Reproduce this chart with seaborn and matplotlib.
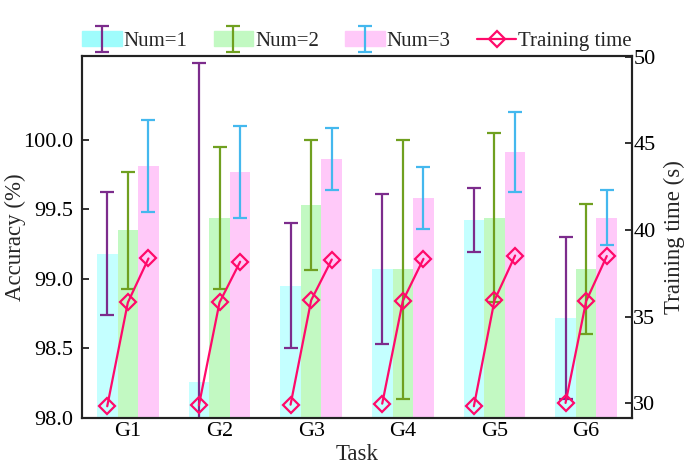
import numpy as np
import pandas as pd
import matplotlib
matplotlib.use("Agg")
import matplotlib.pyplot as plt
import seaborn as sns
from matplotlib.legend_handler import HandlerTuple, HandlerErrorbar
from matplotlib.container import ErrorbarContainer

tasks = ["G1", "G2", "G3", "G4", "G5", "G6"]
nums = ["Num=1", "Num=2", "Num=3"]

acc_num1 = [99.18, 98.26, 98.95, 99.07, 99.42, 98.72]
acc_num2 = [99.35, 99.44, 99.53, 99.07, 99.44, 99.07]
acc_num3 = [99.81, 99.77, 99.86, 99.58, 99.91, 99.44]

err_num1 = [0.44, 2.29, 0.45, 0.54, 0.23, 0.58]
err_num2 = [0.42, 0.51, 0.47, 0.93, 0.61, 0.47]
err_num3 = [0.33, 0.33, 0.22, 0.22, 0.29, 0.20]

# training time per group, one value per Num setting
time_num1 = [29.83, 29.88, 29.92, 29.98, 29.83, 30.02]
time_num2 = [35.82, 35.82, 35.95, 35.91, 35.95, 35.90]
time_num3 = [38.36, 38.17, 38.30, 38.34, 38.53, 38.50]

bar_colors = ["#c4ffff", "#c2f9c2", "#ffc9f9"]
legend_colors = ["#9ffcfc", "#c2f9c2", "#ffc9f9"]
err_colors = ["#7c2c8c", "#70a020", "#44b8ee"]
line_color = "#ff0a6a"

df = pd.DataFrame({
    "Task": tasks * 3,
    "Num": [n for n in nums for _ in tasks],
    "Accuracy": acc_num1 + acc_num2 + acc_num3,
})
errs = [err_num1, err_num2, err_num3]
accs = [acc_num1, acc_num2, acc_num3]
times = [time_num1, time_num2, time_num3]

sns.set_style("ticks")
plt.rcParams["font.family"] = ["Liberation Serif", "DejaVu Serif"]
plt.rcParams["font.size"] = 15

fig = plt.figure(figsize=(6.91, 4.69), dpi=100)
ax = fig.add_axes([0.1187, 0.1087, 0.7959, 0.7719])

sns.barplot(data=df, x="Task", y="Accuracy", hue="Num", palette=bar_colors,
            width=0.675, gap=0, saturation=1, linewidth=0, ax=ax, legend=False)

bar_conts = list(ax.containers)
err_handles = []
centers = []
for i, cont in enumerate(bar_conts):
    xs = [b.get_x() + b.get_width() / 2 for b in cont]
    centers.append(xs)
    eb = ax.errorbar(xs, accs[i], yerr=errs[i], fmt="none", ecolor=err_colors[i],
                     elinewidth=1.6, capsize=5, capthick=1.6, zorder=3)
    err_handles.append(eb)

ax.set_ylim(98.0, 100.6)
ax.set_xlim(-0.5, 5.5)
ax.set_yticks([98.0, 98.5, 99.0, 99.5, 100.0])
ax.set_yticklabels(["98.0", "98.5", "99.0", "99.5", "100.0"])
ax.set_xlabel("Task", fontsize=16.5, labelpad=2)
ax.set_ylabel("Accuracy (%)", fontsize=16.5)
ax.yaxis.set_label_coords(-0.102, 0.5)

ax2 = ax.twinx()
line = None
for g in range(len(tasks)):
    xs = [centers[k][g] for k in range(3)]
    ys = [times[k][g] for k in range(3)]
    line, = ax2.plot(xs, ys, color=line_color, lw=1.6, marker="D", ms=8,
                     mfc="none", mec=line_color, mew=1.6, zorder=4)
ax2.set_ylim(29.15, 50.05)
ax2.set_yticks([30, 35, 40, 45, 50])
ax2.set_ylabel("Training time (s)", fontsize=16.5, labelpad=6)

for a in (ax, ax2):
    for s in a.spines.values():
        s.set_linewidth(1.5)
        s.set_color("#222222")
    a.tick_params(direction="in", length=5, width=1.3, colors="#222222")
    a.tick_params(axis="both", labelcolor="black", labelsize=16)
ax.tick_params(axis="y", right=False, pad=6.5)
ax.tick_params(axis="x", top=False, pad=3)
ax2.tick_params(axis="y", pad=1)

patches = [plt.Rectangle((0, 0), 1, 1, color=c) for c in legend_colors]
handles = [(patches[i], err_handles[i]) for i in range(3)] + [line]
labels = nums + ["Training time"]
ax.legend(handles, labels,
          handler_map={tuple: HandlerTuple(ndivide=1),
                       ErrorbarContainer: HandlerErrorbar(yerr_size=0.62)},
          loc="lower center", bbox_to_anchor=(0.5, 0.985), ncol=4, frameon=False,
          fontsize=15, handlelength=1.9, handletextpad=0.1, columnspacing=1.25,
          borderaxespad=0.1)

fig.savefig("out.png", dpi=100)
